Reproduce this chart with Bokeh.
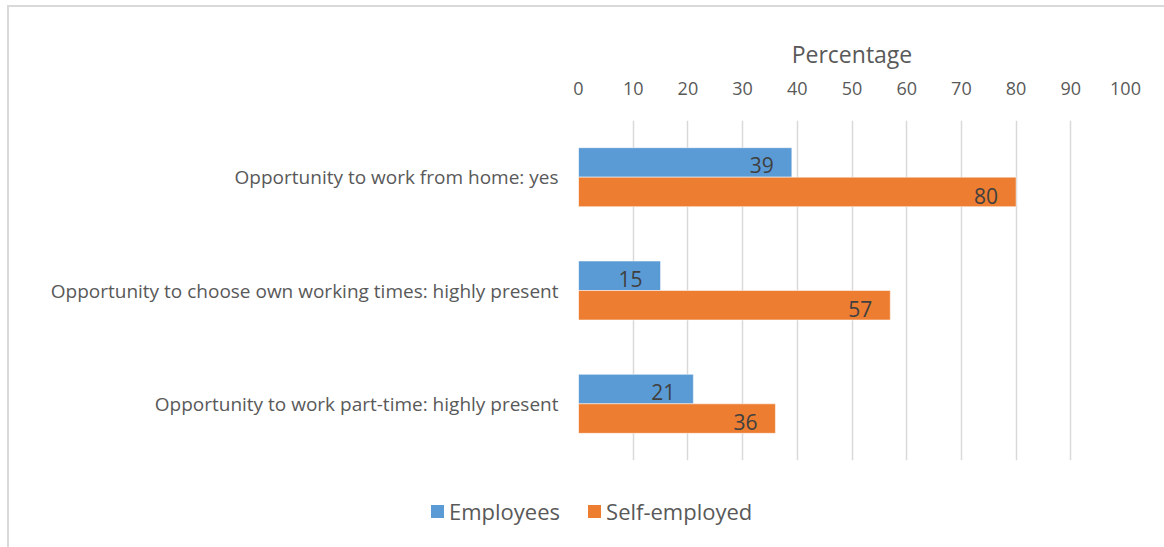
from bokeh.plotting import figure
from bokeh.layouts import column
from bokeh.models import ColumnDataSource, FactorRange, Range1d, FixedTicker, Div
from bokeh.transform import dodge
from bokeh.core.properties import value
from bokeh.embed import file_html
from bokeh.resources import INLINE

categories = [
    "Opportunity to work from home: yes",
    "Opportunity to choose own working times: highly present",
    "Opportunity to work part-time: highly present",
]
employees = [39, 15, 21]
self_employed = [80, 57, 36]
x_ticks = [0, 10, 20, 30, 40, 50, 60, 70, 80, 90, 100]
series_names = ["Employees", "Self-employed"]
colors = ["#5b9bd5", "#ed7d31"]

src = ColumnDataSource(dict(
    cat=categories,
    emp=employees,
    selfe=self_employed,
    emp_lab=[str(v) for v in employees],
    self_lab=[str(v) for v in self_employed],
))

FONT = "Open Sans"
TXT = "#595959"

p = figure(width=1164, height=490,
           y_range=FactorRange(factors=categories[::-1]),
           x_range=Range1d(0, 100),
           x_axis_location="above",
           output_backend="svg", toolbar_location=None,
           min_border_left=578, min_border_right=39,
           min_border_top=120, min_border_bottom=30)
p.border_fill_alpha = 0
p.outline_line_color = None

r1 = p.hbar(y=dodge("cat", 0.13, range=p.y_range), right="emp", left=0, height=0.26,
            source=src, fill_color=colors[0], line_color="white", line_alpha=0.5, line_width=1)
r2 = p.hbar(y=dodge("cat", -0.13, range=p.y_range), right="selfe", left=0, height=0.26,
            source=src, fill_color=colors[1], line_color="white", line_alpha=0.5, line_width=1)

p.text(x="emp", y=dodge("cat", 0.0, range=p.y_range), text="emp_lab", source=src,
       text_align="right", text_baseline="bottom", x_offset=-18, y_offset=-4,
       text_font=value(FONT), text_font_size="21px", text_color="#404040")
p.text(x="selfe", y=dodge("cat", -0.26, range=p.y_range), text="self_lab", source=src,
       text_align="right", text_baseline="bottom", x_offset=-18, y_offset=-3,
       text_font=value(FONT), text_font_size="21px", text_color="#404040")

p.xgrid.ticker = FixedTicker(ticks=x_ticks)
p.xgrid.grid_line_color = "#d9d9d9"
p.xgrid.grid_line_width = 1.5
p.ygrid.grid_line_color = None

xa = p.xaxis[0]
xa.ticker = FixedTicker(ticks=x_ticks)
xa.axis_line_color = None
xa.major_tick_line_color = None
xa.minor_tick_line_color = None
xa.major_tick_out = 0
xa.major_tick_in = 0
xa.major_label_standoff = 26
xa.major_label_text_font = FONT
xa.major_label_text_font_size = "18px"
xa.major_label_text_color = TXT
xa.axis_label = "Percentage"
xa.axis_label_text_font = FONT
xa.axis_label_text_font_size = "23px"
xa.axis_label_text_font_style = "normal"
xa.axis_label_text_color = TXT
xa.axis_label_standoff = 9

ya = p.yaxis[0]
ya.axis_line_color = None
ya.major_tick_line_color = None
ya.minor_tick_line_color = None
ya.major_tick_out = 0
ya.major_tick_in = 0
ya.major_label_standoff = 20
ya.major_label_text_font = FONT
ya.major_label_text_font_size = "19px"
ya.major_label_text_color = TXT

# legend strip below the chart (HTML, real text)
sq = "display:inline-block;width:13px;height:13px;margin-right:5px;"
items_html = "".join(
    f'<span style="display:inline-flex;align-items:center;margin-right:28px;">'
    f'<span style="{sq}background:{c};"></span>{n}</span>'
    for n, c in zip(series_names, colors)
)
legend_div = Div(
    text=f'<div style="display:flex;align-items:center;height:44px;padding-left:431px;'
         f'font-family:\'{FONT}\';font-size:22px;color:{TXT};white-space:nowrap;">{items_html}</div>',
    width=1164, height=57, margin=0,
)

layout = column(p, legend_div, spacing=0)
layout.styles = {
    "background-image": "linear-gradient(#d9d9d9,#d9d9d9), linear-gradient(#d9d9d9,#d9d9d9)",
    "background-size": "2px 100%, 100% 2px",
    "background-position": "7px 5px, 7px 5px",
    "background-repeat": "no-repeat",
    "background-color": "white",
}

open("out.html", "w").write(file_html(layout, INLINE))
